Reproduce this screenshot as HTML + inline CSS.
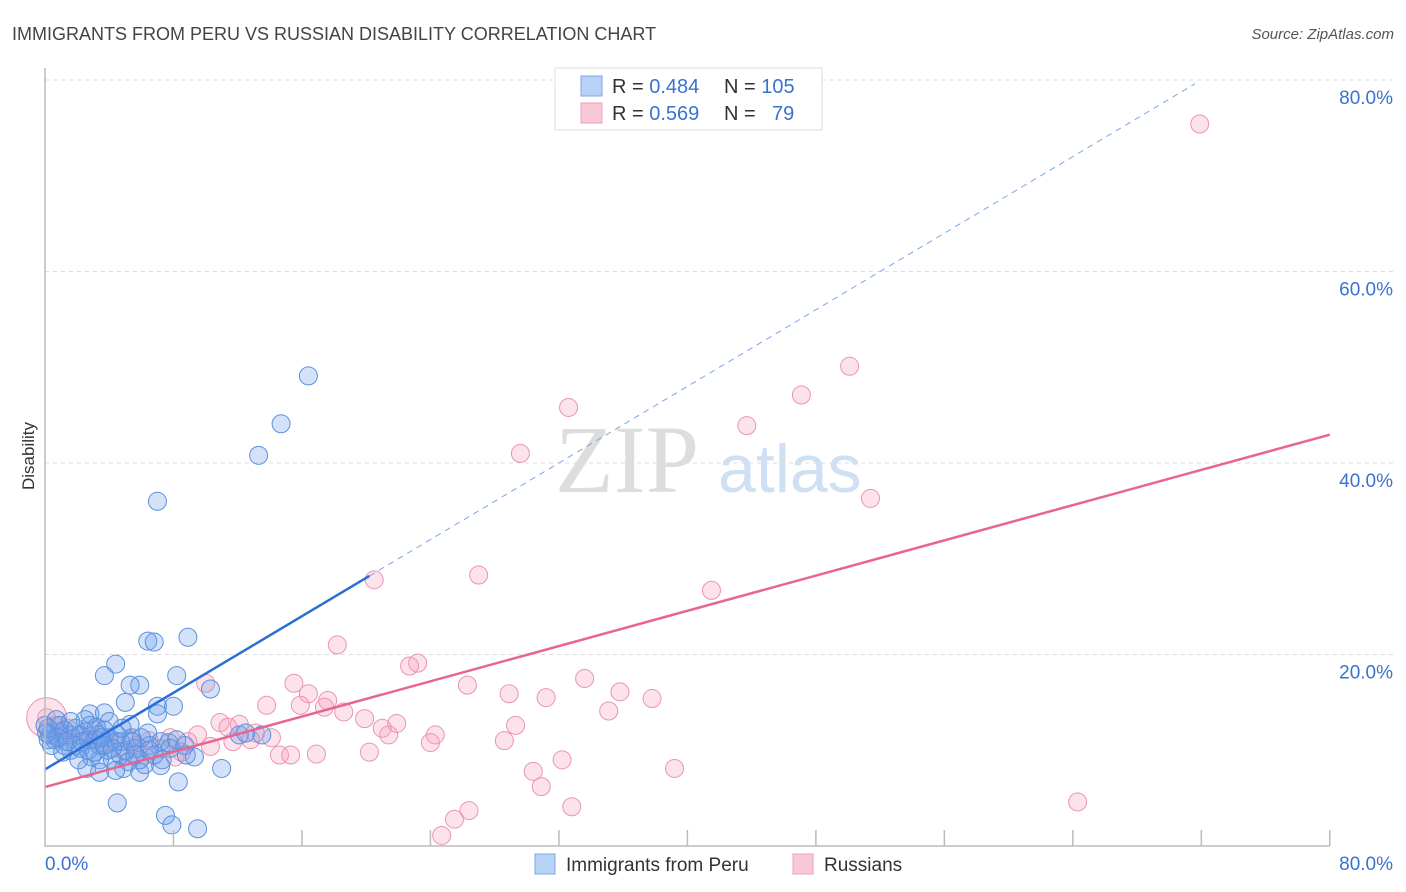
<!DOCTYPE html>
<html><head><meta charset="utf-8"><style>
body{margin:0;background:#fff;font-family:"Liberation Sans",sans-serif}
svg{display:block}
</style></head><body>
<svg id="c" width="1406" height="892">
<text x="12" y="40" font-size="18" fill="#444">IMMIGRANTS FROM PERU VS RUSSIAN DISABILITY CORRELATION CHART</text>
<text x="1394" y="39" font-size="15" fill="#555" font-style="italic" text-anchor="end">Source: ZipAtlas.com</text>
<text x="34" y="456" font-size="17" fill="#333" text-anchor="middle" transform="rotate(-90 34 456)">Disability</text>
<text x="555" y="492" font-size="96" fill="#ddd" font-family="Liberation Serif,serif">ZIP</text>
<text x="718" y="492" font-size="68" fill="#cfe0f5">atlas</text>
<g id="grid"></g><g id="pts"></g><g id="lines"></g><g id="axes"></g>
<g>
<rect x="555" y="68" width="267" height="62" fill="#fff" stroke="#ddd"/>
<rect x="581" y="76" width="21" height="20" fill="#b8d2f5" stroke="#7aa8e8"/>
<rect x="581" y="103" width="21" height="20" fill="#f8c8d8" stroke="#eca0b8"/>
<text x="612" y="93" font-size="20" fill="#333">R = <tspan fill="#3b72d0">0.484</tspan><tspan x="724">N = </tspan><tspan fill="#3b72d0">105</tspan></text>
<text x="612" y="120" font-size="20" fill="#333">R = <tspan fill="#3b72d0">0.569</tspan><tspan x="724">N = </tspan><tspan x="772" fill="#3b72d0">79</tspan></text>
</g>
<g>
<rect x="535" y="854" width="20" height="20" fill="#b8d2f5" stroke="#7aa8e8"/>
<text x="566" y="871" font-size="19" fill="#333">Immigrants from Peru</text>
<rect x="793" y="854" width="20" height="20" fill="#f8c8d8" stroke="#eca0b8"/>
<text x="824" y="871" font-size="19" fill="#333">Russians</text>
</g>
</svg>
<script>
const yTicks=[20,40,60,80];
const xTickLabels=["0.0%","80.0%"];
const peruX=[16.4,14.7,13.3,7.0,8.9,6.4,6.8,4.4,8.2,3.7,5.9,5.3,10.3,5.0,8.0,7.0,2.8,3.7,7.0,4.0,5.3,3.2,5.4,4.4,7.2,9.3,7.7,11.0,8.3,4.5,7.5,7.9,9.5,2.6,4.9,5.9,6.2,7.2,4.2,2.9,1.6,0.6,0.3,0.9,1.9,2.2,1.2,3.4,2.7,3.9,4.7,5.6,6.5,0.2,0.7,2.5,3.1,1.6,4.0,5.0,5.9,1.1,2.1,3.4,2.8,3.7,4.5,0.4,1.2,2.2,3.3,5.2,6.5,4.4,5.6,3.4,1.9,2.7,0.0,0.2,0.8,1.4,2.3,3.1,3.7,4.7,6.0,6.8,7.8,8.7,12.1,13.5,12.5,4.2,0.9,1.6,2.5,3.5,4.8,5.4,6.4,7.3,8.2,8.8,0.1];
const peruY=[49.1,44.1,40.8,36.0,21.8,21.4,21.3,19.0,17.8,17.8,16.8,16.8,16.4,15.0,14.6,14.6,13.8,13.9,13.8,13.0,12.7,12.4,11.3,10.9,10.9,9.3,10.8,8.1,6.7,4.5,3.2,2.2,1.8,8.1,8.1,7.7,8.5,8.4,9.0,9.3,10.0,11.1,11.6,11.9,10.5,11.6,10.5,10.5,11.1,10.0,9.5,10.2,10.5,12.3,13.2,11.9,11.1,11.6,11.3,10.0,9.0,9.8,9.0,9.0,12.6,12.1,11.6,10.5,12.1,10.2,11.6,8.8,10.0,7.9,9.5,7.7,12.3,10.0,12.6,11.1,11.3,10.9,10.9,9.8,10.5,10.9,11.3,9.5,10.2,10.5,11.6,11.6,11.8,10.2,12.6,13.0,13.2,11.3,12.3,10.9,11.8,9.0,11.1,9.5,11.8];
const rusX=[71.9,50.1,47.1,43.7,32.6,29.6,51.4,27.0,20.5,41.5,18.2,23.2,22.7,33.6,26.3,35.8,28.9,31.2,37.8,15.5,16.4,15.9,17.6,17.4,13.8,10.0,18.6,19.9,21.9,21.0,21.4,24.3,24.0,29.3,28.6,35.1,10.9,12.1,11.4,13.1,14.1,12.8,11.7,10.3,9.5,8.9,8.5,8.1,7.2,6.2,5.7,5.0,4.0,3.4,2.8,2.1,1.4,0.6,0.1,14.6,15.3,16.9,20.2,32.2,30.4,30.9,39.2,32.8,26.4,25.5,24.7,64.3,0.9,6.5,7.8,3.1,5.3,0.1];
const rusY=[75.4,50.1,47.1,43.9,45.8,41.0,36.3,28.3,27.8,26.7,21.0,19.1,18.8,17.5,16.8,16.1,15.9,15.5,15.4,17.0,15.9,14.7,15.2,14.5,14.7,17.0,14.0,13.3,12.8,12.3,11.6,11.6,10.8,12.6,11.0,14.1,12.9,12.7,12.4,11.8,11.3,11.1,10.9,10.4,11.6,10.9,9.8,9.3,10.2,9.5,10.5,9.8,10.9,10.5,11.1,11.6,12.3,12.6,13.4,9.5,9.5,9.6,9.8,9.0,7.8,6.2,8.1,4.1,3.7,2.8,1.1,4.6,11.3,11.0,11.3,12.1,11.1,13.4];
const rusR=[9,9,9,9,9,9,9,9,9,9,9,9,9,9,9,9,9,9,9,9,9,9,9,9,9,9,9,9,9,9,9,9,9,9,9,9,9,9,9,9,9,9,9,9,9,9,9,9,9,9,9,9,9,9,9,9,9,9,9,9,9,9,9,9,9,9,9,9,9,9,9,9,9,9,9,9,9,20];
const peruFit=[8.0,1.0];
const rusFit=[6.16,0.46];
const NS="http://www.w3.org/2000/svg";
const sx=v=>45+v*16.06, sy=v=>846-v*9.575;
function mk(tag,attrs,parent){const e=document.createElementNS(NS,tag);for(const k in attrs)e.setAttribute(k,attrs[k]);document.getElementById(parent).appendChild(e);return e;}
yTicks.forEach(t=>{
 const l=mk('line',{x1:45,x2:1395,y1:sy(t),y2:sy(t),stroke:'#ddd','stroke-dasharray':'4,4'},'grid');
 
 
 const tx=mk('text',{x:1393,y:sy(t)+24,'font-size':19,fill:'#3b72d0','text-anchor':'end'},'grid');
 tx.textContent=t.toFixed(1)+'%';
 
 
});
for(let i=1;i<=10;i++){
 const t=mk('line',{x1:sx(i*8),x2:sx(i*8),y1:830,y2:846,stroke:'#bbb','stroke-width':1.5},'axes');
 
 
}
const ax=mk('path',{d:'M45 68 V846 H1330',fill:'none',stroke:'#bbb','stroke-width':1.5},'axes');


const xl0=mk('text',{x:45,y:870,'font-size':19,fill:'#3b72d0'},'axes');xl0.textContent=xTickLabels[0];


const xl1=mk('text',{x:1393,y:870,'font-size':19,fill:'#3b72d0','text-anchor':'end'},'axes');xl1.textContent=xTickLabels[1];


rusX.forEach((x,i)=>{
 const c=mk('circle',{cx:sx(x),cy:sy(rusY[i]),r:rusR[i]||9,fill:'rgba(245,160,190,0.3)',stroke:'#eb94b2','stroke-width':1},'pts');
 
 
});
peruX.forEach((x,i)=>{
 const c=mk('circle',{cx:sx(x),cy:sy(peruY[i]),r:9,fill:'rgba(110,160,235,0.3)',stroke:'#5b90dd','stroke-width':1},'pts');
 
 
});
const pl=mk('line',{x1:sx(0),y1:sy(peruFit[0]),x2:sx(20.2),y2:sy(peruFit[0]+peruFit[1]*20.2),stroke:'#2a6fd8','stroke-width':2.5},'lines');


const pd=mk('line',{x1:sx(20.2),y1:sy(peruFit[0]+peruFit[1]*20.2),x2:sx(71.6),y2:sy(peruFit[0]+peruFit[1]*71.6),stroke:'#7aa6e6','stroke-width':1,'stroke-dasharray':'6,5'},'lines');


const rl=mk('line',{x1:sx(0),y1:sy(rusFit[0]),x2:sx(80),y2:sy(rusFit[0]+rusFit[1]*80),stroke:'#e8658f','stroke-width':2.5},'lines');


</script>
</body></html>
